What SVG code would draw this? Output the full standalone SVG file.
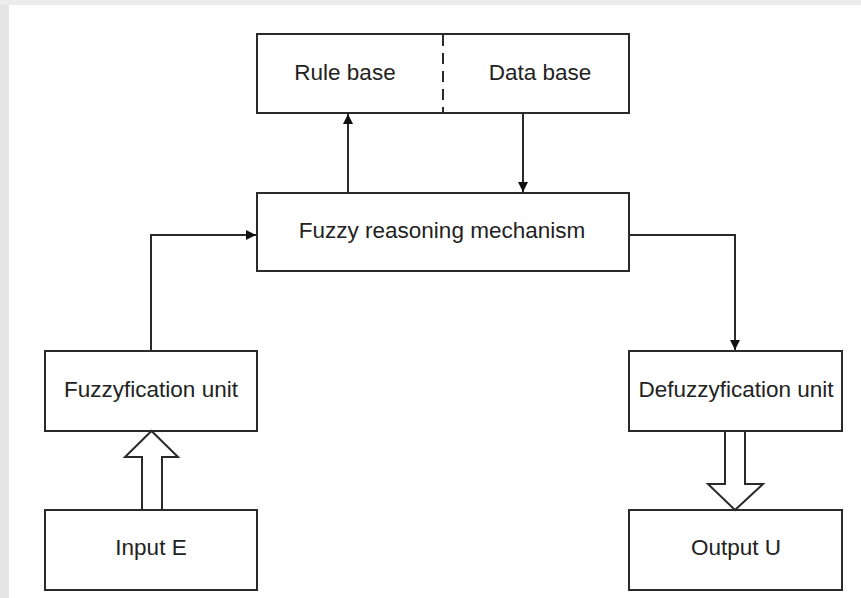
<svg xmlns="http://www.w3.org/2000/svg" width="861" height="598" viewBox="0 0 861 598">
<style>
.box{fill:#fff;stroke:#2a2a2a;stroke-width:2}
.lbl{font-family:"Liberation Sans",Arial,sans-serif;font-size:22.5px;fill:#222;text-anchor:middle}
.con{fill:none;stroke:#2a2a2a;stroke-width:2}
.hollow{fill:#fff;stroke:#2a2a2a;stroke-width:2;stroke-linejoin:miter}
</style>
<defs>
<marker id="ah" viewBox="0 0 10 10" refX="10" refY="5" markerWidth="5" markerHeight="5" orient="auto" markerUnits="strokeWidth">
<path d="M0,0 L10,5 L0,10 z" fill="#111"/>
</marker>
</defs>
<rect x="0" y="0" width="861" height="598" fill="#fff"/>
<rect x="0" y="0" width="9" height="598" fill="#e4e4e4"/>
<rect x="0" y="0" width="861" height="5" fill="#ececec"/>
<g id="knowledge-base">
<rect class="box" x="257" y="34" width="372" height="79"/>
<line x1="443" y1="35" x2="443" y2="113" stroke="#2a2a2a" stroke-width="2" stroke-dasharray="11,7"/>
<text class="lbl" x="345" y="80">Rule base</text>
<text class="lbl" x="540" y="80">Data base</text>
</g>
<g id="fuzzy-reasoning">
<rect class="box" x="257" y="193" width="372" height="78"/>
<text class="lbl" x="442" y="238">Fuzzy reasoning mechanism</text>
</g>
<g id="fuzzyfication">
<rect class="box" x="45" y="351" width="212" height="80"/>
<text class="lbl" x="151" y="397">Fuzzyfication unit</text>
</g>
<g id="input">
<rect class="box" x="45" y="510" width="212" height="80"/>
<text class="lbl" x="151" y="555">Input E</text>
</g>
<g id="defuzzyfication">
<rect class="box" x="629" y="351" width="213" height="80"/>
<text class="lbl" x="736" y="397">Defuzzyfication unit</text>
</g>
<g id="output">
<rect class="box" x="629" y="510" width="213" height="80"/>
<text class="lbl" x="736" y="555">Output U</text>
</g>
<g id="connectors">
<line class="con" x1="348" y1="193" x2="348" y2="114" marker-end="url(#ah)"/>
<line class="con" x1="523" y1="113" x2="523" y2="192" marker-end="url(#ah)"/>
<polyline class="con" points="151,351 151,235 256,235" marker-end="url(#ah)"/>
<polyline class="con" points="629,235 735,235 735,350" marker-end="url(#ah)"/>
<polygon class="hollow" points="142,510 142,457 125,457 151.5,431 178,457 162,457 162,510"/>
<polygon class="hollow" points="725,431 725,484 708,484 735,510 763,484 745,484 745,431"/>
</g>
</svg>
